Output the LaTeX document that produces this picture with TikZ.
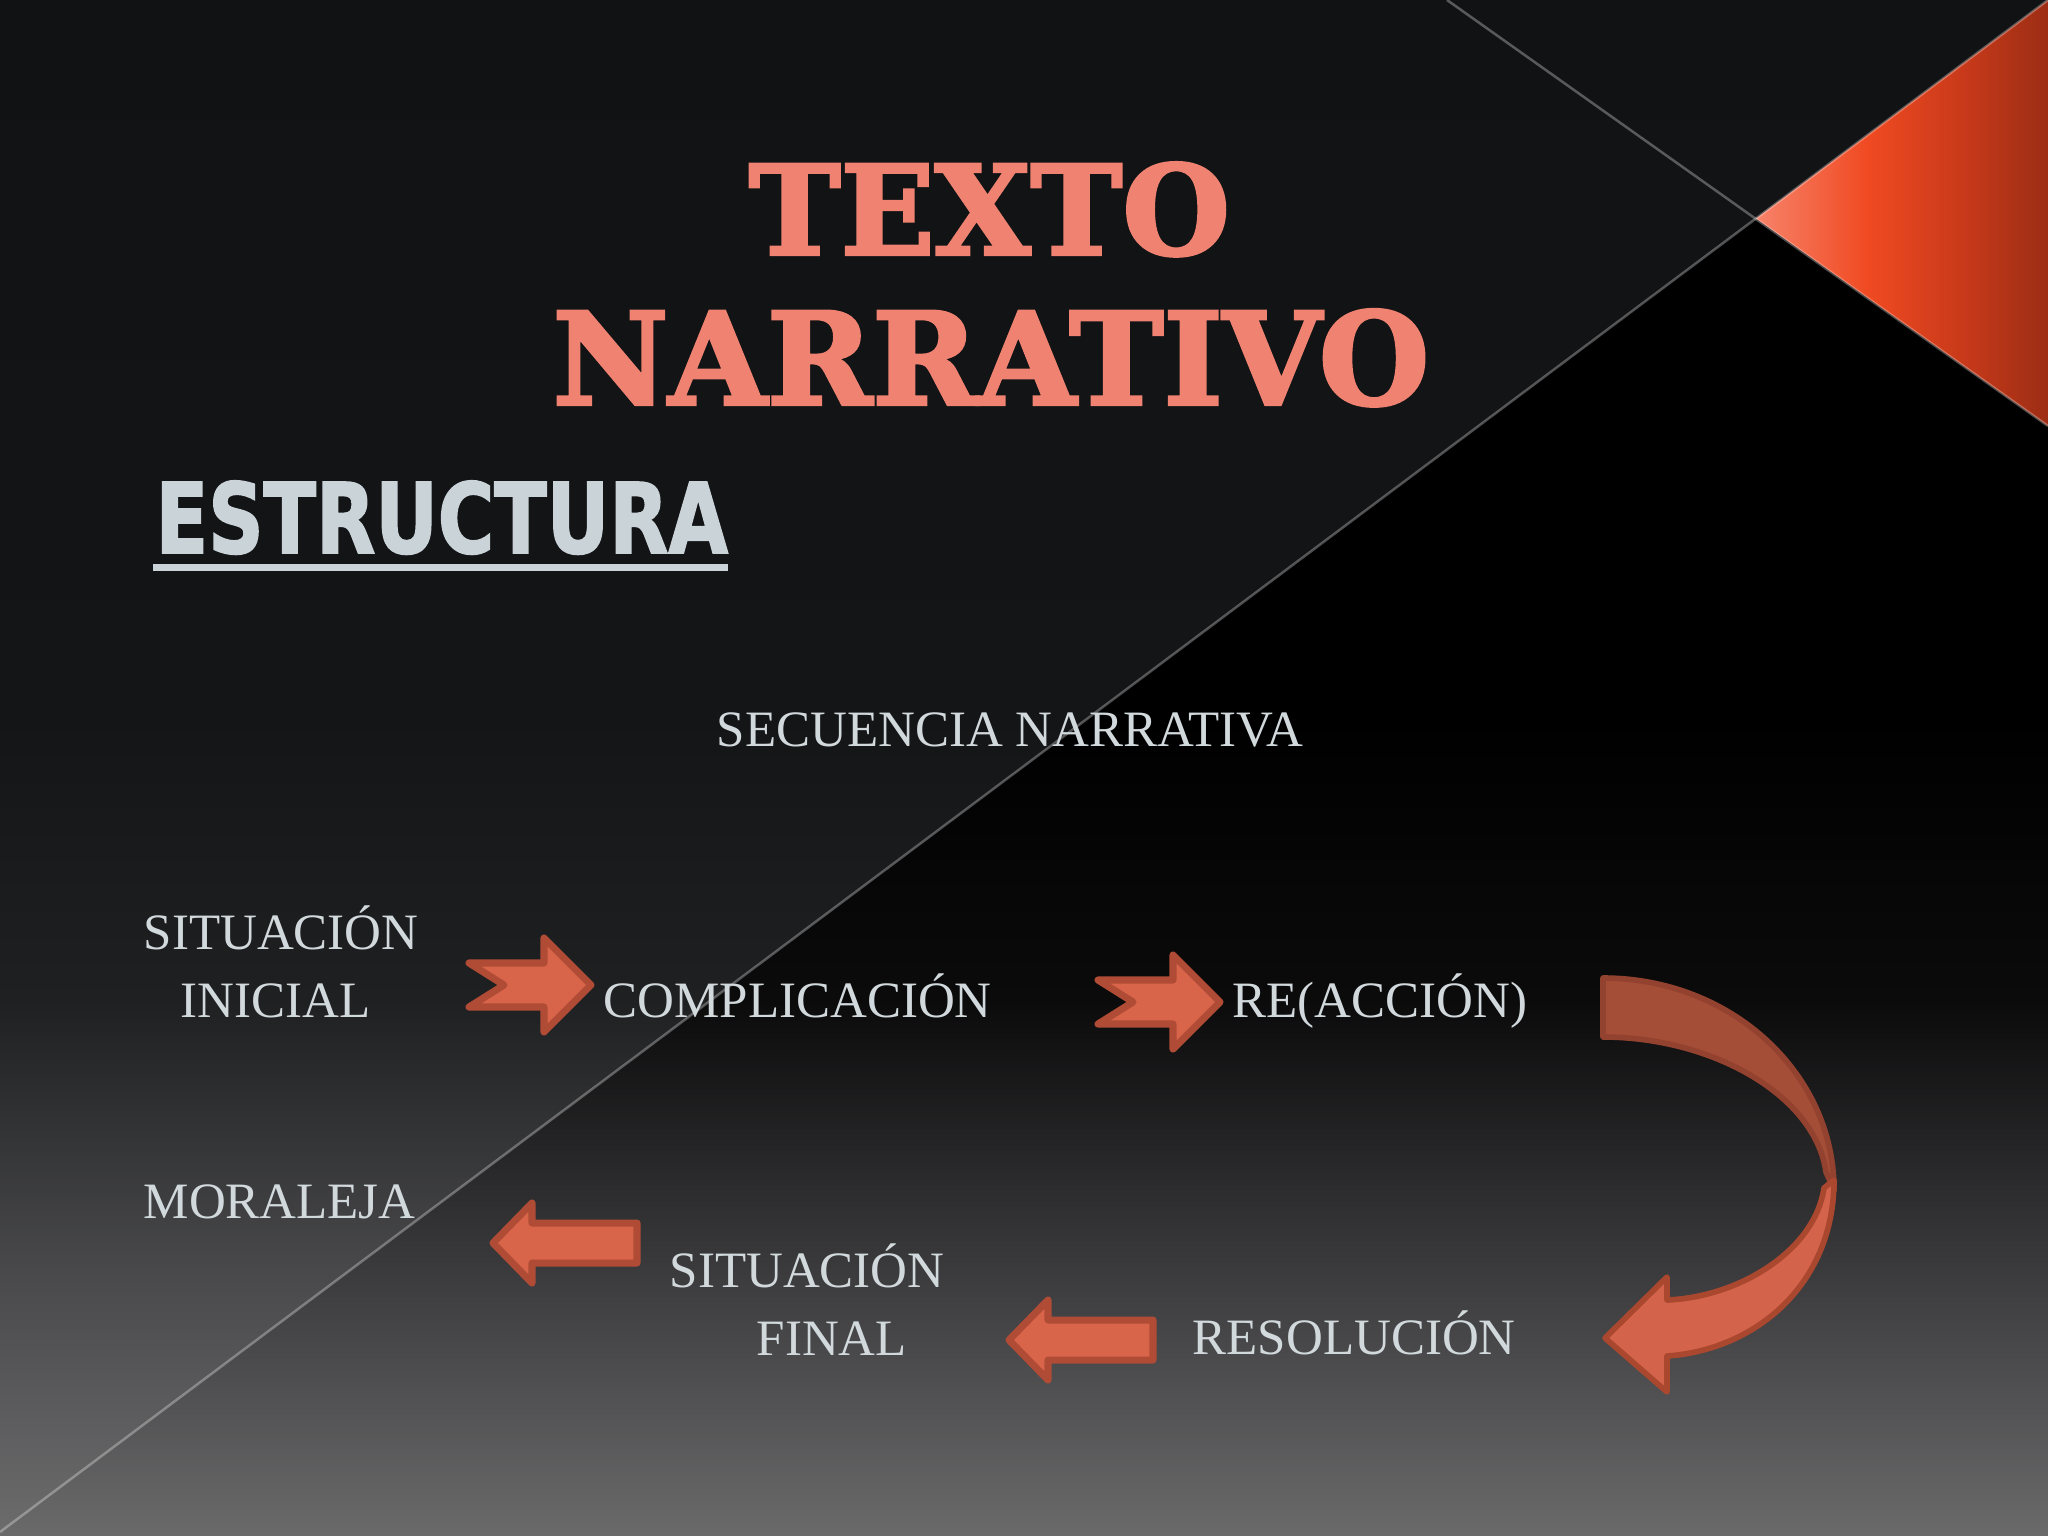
\documentclass[tikz,border=0pt]{standalone}
\usepackage{fontspec}
\usepackage{graphicx}
\setmainfont{Liberation Serif}
\newfontfamily\titlefont{DejaVu Serif}[BoldFeatures={FakeBold=2.5}]
\newfontfamily\structfont{DejaVu Sans}[BoldFeatures={FakeBold=2}]

\definecolor{dk0b}{HTML}{0B0B0C}
\definecolor{dk40}{HTML}{404042}
\definecolor{dk6a}{HTML}{6A6A6B}
\definecolor{lt11}{HTML}{101214}
\definecolor{lt14}{HTML}{141517}
\definecolor{lt1f}{HTML}{1F2022}
\definecolor{lt4d}{HTML}{4D4D4F}
\definecolor{lt6c}{HTML}{6C6C6D}
\definecolor{tri1}{HTML}{F7836A}
\definecolor{tri2}{HTML}{F04A22}
\definecolor{tri3}{HTML}{C93A1A}
\definecolor{tri4}{HTML}{9C2D14}
\definecolor{txtcol}{HTML}{D2D9DC}
\definecolor{salmon}{HTML}{F08272}
\definecolor{structcol}{HTML}{C9D3D8}
\definecolor{arrfill}{HTML}{D8644A}
\definecolor{arrdraw}{HTML}{B04C36}
\definecolor{curvdark}{HTML}{A44D37}
\definecolor{curvdarkb}{HTML}{944230}
\definecolor{curvlight}{HTML}{D4634B}
\definecolor{curvlightb}{HTML}{A9472F}

\pgfdeclareverticalshading{bgdark}{100bp}{color(0bp)=(dk6a); color(25bp)=(dk6a); color(32.7bp)=(dk40); color(42.4bp)=(dk0b); color(51.6bp)=(black); color(75bp)=(black); color(100bp)=(black)}
\pgfdeclareverticalshading{bglight}{100bp}{color(0bp)=(lt6c); color(25bp)=(lt6c); color(32.7bp)=(lt4d); color(42.4bp)=(lt1f); color(51.6bp)=(lt14); color(75bp)=(lt11); color(100bp)=(lt11)}
\pgfdeclarehorizontalshading{trishade}{100bp}{color(0bp)=(tri1); color(25bp)=(tri1); color(44bp)=(tri2); color(60bp)=(tri3); color(75bp)=(tri4); color(100bp)=(tri4)}

\tikzset{
  divline/.style={draw=white, draw opacity=0.3, line width=0.71pt},
  lbl/.style={text=txtcol, font=\fontsize{14.5}{17}\selectfont, inner sep=0pt, anchor=base west},
  blockarrow/.style={fill=arrfill, draw=arrdraw, line width=2pt, line join=round},
  notched/.pic={\filldraw[blockarrow] (-3,0) -- (-50,-47) -- (-50,-22) -- (-125,-22) -- (-90,0) -- (-125,22) -- (-50,22) -- (-50,47) -- cycle;},
  leftarr/.pic={\filldraw[blockarrow] (3,0) -- (42,-40) -- (42,-20) -- (147,-20) -- (147,20) -- (42,20) -- (42,40) -- cycle;}
}

\begin{document}
\begin{tikzpicture}[x=0.01cm,y=-0.01cm]
\useasboundingbox (0,0) rectangle (2048,1536);
% background
\shade[shading=bgdark] (0,0) rectangle (2048,1536);
\begin{scope}
  \clip (0,0) -- (2048,0) -- (0,1532) -- cycle;
  \shade[shading=bglight] (0,0) rectangle (2048,1536);
\end{scope}
\coordinate (A1) at (1447,0);
\coordinate (A2) at (2048,426);
\coordinate (X) at (1756,218.5);
\coordinate (TR) at (2048,0);
\coordinate (B2) at (0,1532);
\shade[shading=trishade] (X) -- (TR) -- (A2) -- cycle;
\draw[divline] (A1) -- (A2);
\draw[divline] (TR) -- (B2);

% titles
\node[anchor=south west, inner sep=0pt, text=salmon] (texto) at (748,257)
  {\resizebox{4.81cm}{0.92cm}{\titlefont\bfseries TEXTO}};
\node[anchor=south west, inner sep=0pt, text=salmon] (narrativo) at (552,407)
  {\resizebox{8.76cm}{0.95cm}{\titlefont\bfseries NARRATIVO}};
\node[anchor=south west, inner sep=0pt, text=structcol] (estructura) at (155,555)
  {\resizebox{5.72cm}{0.72cm}{\structfont\bfseries ESTRUCTURA}};
\fill[structcol] (153,564) rectangle (728,571);

% labels
\node[lbl] (secuencia) at (716,746) {SECUENCIA NARRATIVA};
\node[lbl] (sitini1) at (143,949) {SITUACIÓN};
\node[lbl] (sitini2) at (180,1017) {INICIAL};
\node[lbl] (complic) at (603,1017) {COMPLICACIÓN};
\node[lbl] (reaccion) at (1232,1017) {RE(ACCIÓN)};
\node[lbl] (moraleja) at (143,1218) {MORALEJA};
\node[lbl] (sitfin1) at (669,1287) {SITUACIÓN};
\node[lbl] (sitfin2) at (756,1355) {FINAL};
\node[lbl] (resolucion) at (1192,1354) {RESOLUCIÓN};

% straight block arrows
\pic at (594,985) {notched};
\pic at (1223,1002) {notched};
\pic at (1006,1340) {leftarr};
\pic at (490,1243) {leftarr};

% curved arrow
\filldraw[fill=curvdark, draw=curvdarkb, line width=1.6pt, line join=round]
  (1603,978) .. controls (1731,978) and (1834,1073) .. (1834,1190)
  -- (1826,1172) .. controls (1815,1095) and (1712,1037) .. (1603,1037) -- cycle;
\filldraw[fill=curvlight, draw=curvlightb, line width=1.6pt, line join=round]
  (1834,1180) -- (1824,1188) .. controls (1815,1250) and (1740,1297) .. (1667,1300)
  -- (1667,1277) -- (1605,1338) -- (1667,1392) -- (1667,1356)
  .. controls (1755,1350) and (1834,1285) .. (1834,1180) -- cycle;
\end{tikzpicture}
\end{document}
